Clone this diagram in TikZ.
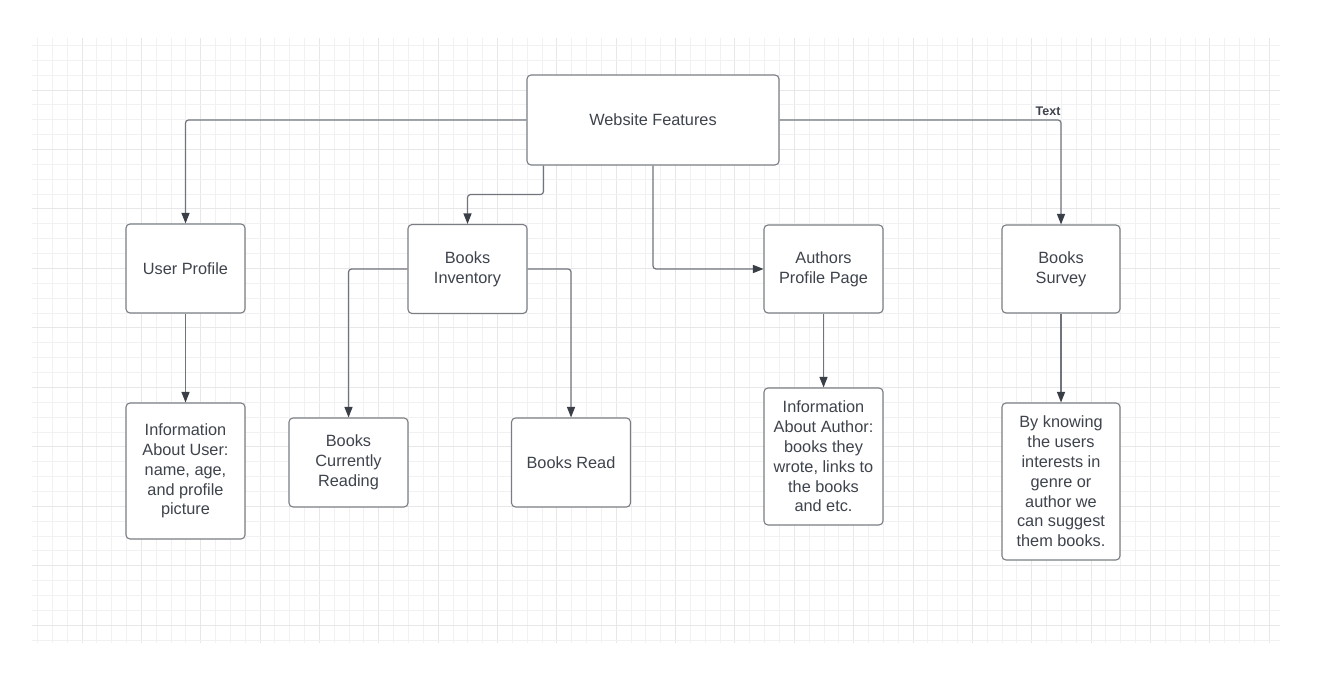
\documentclass[tikz,border=0pt]{standalone}
\usepackage{fontspec}
\setmainfont{Liberation Sans}
\usetikzlibrary{arrows.meta}
\definecolor{boxline}{RGB}{122,126,132}
\definecolor{wireline}{RGB}{112,117,124}
\definecolor{tipdark}{RGB}{58,63,71}
\definecolor{textdark}{RGB}{62,67,76}
\definecolor{gridminor}{RGB}{241,241,243}
\definecolor{gridmajor}{RGB}{231,231,233}
\tikzset{
    feature-box/.style = {draw=boxline, fill=white, line width=1.1pt, rectangle, rounded corners=4pt,
        minimum width=119pt, minimum height=89pt, align=center, text=textdark, inner sep=2pt,
        font=\fontsize{16.3}{19.8}\selectfont},
    feature-arrow/.style = {draw=wireline, line width=1.2pt, rounded corners=3pt,
        -{Triangle[length=10.5pt, width=8pt, color=tipdark]}},
    label-text/.style = {text=textdark, font=\bfseries\fontsize{12.5}{14}\selectfont, inner sep=1pt},
    grid-minor/.style = {draw=gridminor, line width=1pt},
    grid-major/.style = {draw=gridmajor, line width=1.6pt},
}

\begin{document}
\begin{tikzpicture}[x=1pt, y=-1pt]
\fill[white] (0,0) rectangle (1326,676);
\useasboundingbox (0,0) rectangle (1326,676);

% background grid, snapped to whole pixels
\foreach \k in {0,...,83} {
    \pgfmathsetmacro{\gx}{floor(37.5+14.84*\k)+0.5}
    \pgfmathtruncatemacro{\ismajor}{mod(\k,4)==3}
    \ifnum\ismajor=1 \draw[grid-major] (\gx,38) -- (\gx,643); \else \draw[grid-minor] (\gx,38) -- (\gx,643); \fi
}
\foreach \k in {0,...,40} {
    \pgfmathsetmacro{\gy}{floor(45.4+14.87*\k)+0.5}
    \pgfmathtruncatemacro{\ismajor}{mod(\k,4)==3}
    \ifnum\ismajor=1 \draw[grid-major] (32,\gy) -- (1280,\gy); \else \draw[grid-minor] (32,\gy) -- (1280,\gy); \fi
}

% boxes
\node[feature-box, minimum width=252pt, minimum height=90pt] (site) at (653,120) {Website Features};
\node[feature-box] (profile) at (185.5,268.5) {User Profile};
\node[feature-box] (inventory) at (467.5,269) {Books\\Inventory};
\node[feature-box, minimum height=88pt] (authors) at (823.5,269) {Authors\\Profile Page};
\node[feature-box, minimum width=118pt, minimum height=88pt] (survey) at (1061,269) {Books\\Survey};

\node[feature-box, minimum height=136pt] (userinfo) at (185.5,471) {Information\\About User:\\name, age,\\and profile\\picture};
\node[feature-box] (reading) at (348.5,462.5) {Books\\Currently\\Reading};
\node[feature-box] (read) at (571,462.5) {Books Read};
\node[feature-box, minimum height=137pt] (authorinfo) at (823.5,456.5) {Information\\About Author:\\books they\\wrote, links to\\the books\\and etc.};
\node[feature-box, minimum width=118pt, minimum height=157pt] (surveyinfo) at (1061,481.5) {By knowing\\the users\\interests in\\genre or\\author we\\can suggest\\them books.};

% connectors
\draw[feature-arrow] (site.west) -| (profile.north);
\draw[feature-arrow] (site.east) -| node[label-text, pos=0.477, above=3pt] (textlabel) {Text} (survey.north);
\draw[feature-arrow] ([xshift=17pt]site.south west) -- ++(0,29) -| (inventory.north);
\draw[feature-arrow] (site.south) |- (authors.west);
\draw[feature-arrow] (inventory.west) -| (reading.north);
\draw[feature-arrow] (inventory.east) -| (read.north);
\draw[feature-arrow] (profile.south) -- (userinfo.north);
\draw[feature-arrow] (authors.south) -- (authorinfo.north);
\draw[feature-arrow] (survey.south) -- (surveyinfo.north);
\end{tikzpicture}
\end{document}
